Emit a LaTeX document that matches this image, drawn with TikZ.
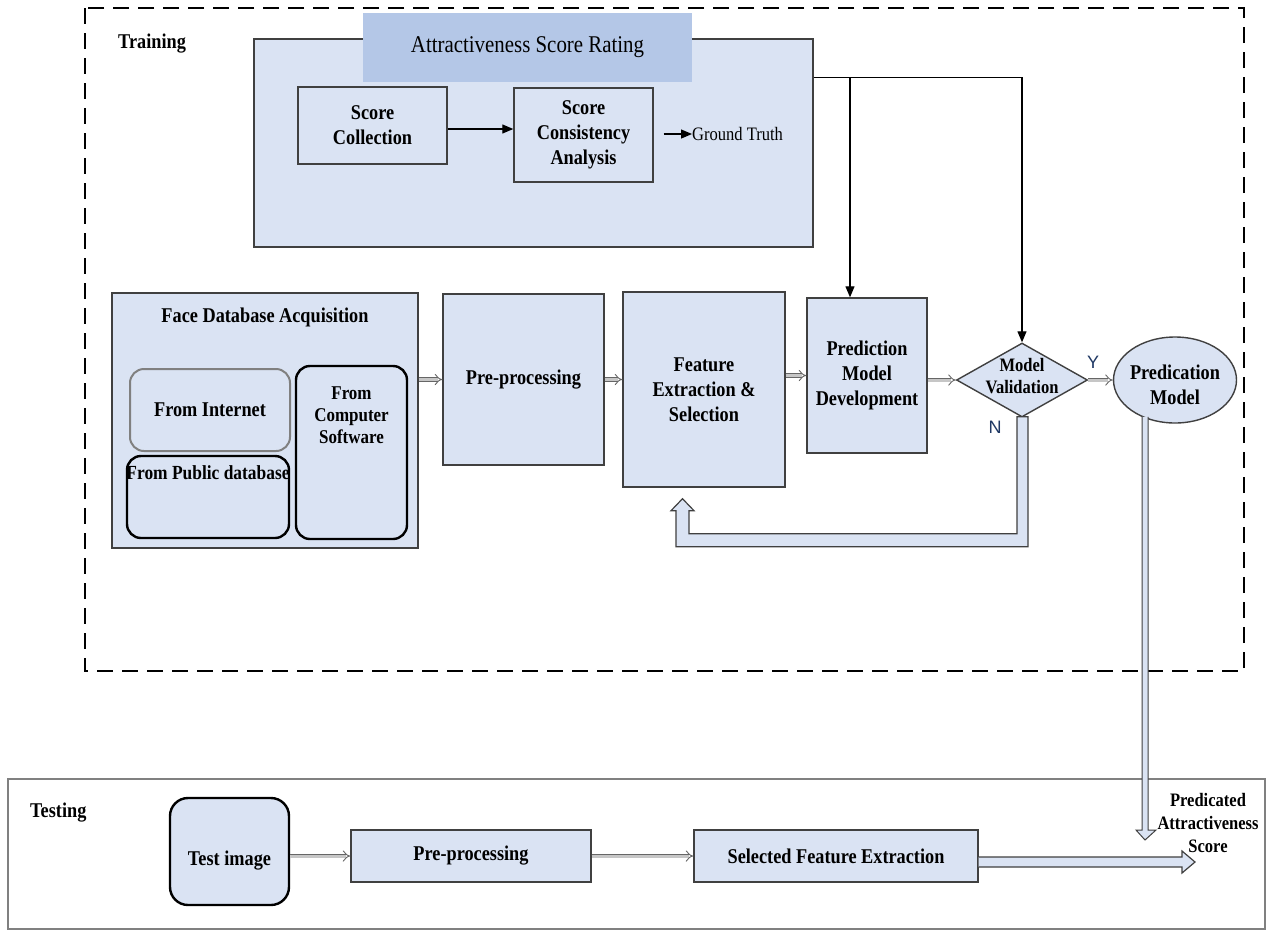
\documentclass[tikz,border=0pt]{standalone}
\usepackage{fontspec}
\setmainfont{Liberation Serif}[FakeStretch=0.87]
\newfontfamily\ynfont{Liberation Sans}
\usetikzlibrary{arrows.meta,shapes.geometric,calc}
\definecolor{boxfill}{RGB}{218,227,243}
\definecolor{bannerfill}{RGB}{180,199,231}
\definecolor{edge}{RGB}{64,64,64}
\definecolor{ynblue}{RGB}{31,56,100}
\begin{document}
\begin{tikzpicture}[x=1pt,y=-1pt,
  box/.style={draw=edge, line width=1.4pt, fill=boxfill, inner sep=0pt},
  btxt/.style={font=\fontsize{21}{25}\selectfont\bfseries, align=center, inner sep=0pt},
  rbox/.style={draw=black, line width=2.4pt, fill=boxfill, rounded corners=14pt, inner sep=0pt},
  plainarrow/.style={line width=1.2pt, -{Triangle[length=11pt,width=9pt]}},
  harrow/.style={draw=edge!80, line width=0.9pt, double=gray!45, double distance=3pt, -{Implies}},
  pipefill/.style={draw=edge, line width=1.2pt, fill=boxfill, line join=miter},
  ynlab/.style={font=\ynfont\fontsize{18}{20}\selectfont, text=ynblue, inner sep=0pt}]
\useasboundingbox (0,0) rectangle (1266,930);
\fill[white] (0,0) rectangle (1266,930);

% training frame
\draw[dash pattern=on 16pt off 9pt, line width=2.5pt] (85,8) rectangle (1244,671);
\node[btxt, anchor=west] (train) at (118,44) {Training};

% attractiveness score rating
\node[box, minimum width=559pt, minimum height=208pt] (asr) at (533.5,143) {};
\node[fill=bannerfill, minimum width=329pt, minimum height=69pt, inner sep=0pt, font=\fontsize{24}{28}\selectfont] (banner) at (527.5,47.5) {Attractiveness Score Rating};
\node[box, btxt, minimum width=149pt, minimum height=77pt] (scol) at (372.5,125.5) {Score\\Collection};
\node[box, btxt, minimum width=139pt, minimum height=94pt] (scon) at (583.5,135) {Score\\Consistency\\Analysis};
\node[anchor=west, font=\fontsize{19}{23}\selectfont, inner sep=0pt] (gt) at (692,134) {Ground Truth};

% face database
\node[box, minimum width=306pt, minimum height=255pt] (face) at (265,420.5) {};
\node[btxt] (facet) at (265,317) {Face Database Acquisition};
\node[draw=gray, line width=2pt, fill=boxfill, rounded corners=14pt, minimum width=160pt, minimum height=82pt, btxt] (inet) at (210,410) {From Internet};
\node[rbox, minimum width=162pt, minimum height=82pt] (pub) at (208,497) {};
\node[btxt, font=\fontsize{20}{24}\selectfont\bfseries] (pubt) at (208,473) {From Public database};
\node[rbox, minimum width=111pt, minimum height=173pt] (soft) at (351.5,452.5) {};
\node[btxt, font=\fontsize{19.5}{22}\selectfont\bfseries] (softt) at (351.5,415) {From\\Computer\\Software};

% pipeline
\node[box, btxt, minimum width=161pt, minimum height=171pt] (pre) at (523.5,379.5) {Pre-processing};
\node[box, btxt, minimum width=162pt, minimum height=195pt] (feat) at (704,389.5) {Feature\\Extraction \&\\Selection};
\node[box, btxt, minimum width=120pt, minimum height=155pt] (pmd) at (867,375.5) {Prediction\\Model\\Development};
\node[diamond, draw=edge, line width=1.4pt, fill=boxfill, minimum width=131pt, minimum height=74pt, inner sep=0pt] (diam) at (1022,380) {};
\node[btxt, font=\fontsize{19}{22}\selectfont\bfseries] (diamt) at (1022,376) {Model\\Validation};
\node[ellipse, draw=edge, line width=1.4pt, fill=boxfill, minimum width=123pt, minimum height=86pt, inner sep=0pt] (ell) at (1175,380) {};
\node[btxt] (ellt) at (1175,385) {Predication\\Model};
\node[ynlab] (ylab) at (1093,362) {Y};
\node[ynlab] (nlab) at (995,427) {N};

% testing
\node[draw=gray, line width=1.5pt, minimum width=1257pt, minimum height=150pt, inner sep=0pt] (testbox) at (636.5,854) {};
\node[btxt, anchor=west] (testl) at (30,813) {Testing};
\node[rbox, minimum width=119pt, minimum height=107pt, rounded corners=18pt] (timg) at (229.5,851.5) {};
\node[btxt] (timgt) at (229.5,861) {Test image};
\node[box, btxt, minimum width=240pt, minimum height=52pt] (tpre) at (471,856) {Pre-processing};
\node[box, btxt, minimum width=284pt, minimum height=52pt] (tsel) at (836,856) {Selected Feature Extraction};
\node[btxt, font=\fontsize{19}{23}\selectfont\bfseries] (pas) at (1208,823) {Predicated\\Attractiveness\\Score};
\coordinate (pend) at (1145,840);
\coordinate (oend) at (1195,862);

% plain arrows
\draw[plainarrow] ([yshift=-3.5pt]scol.east) -- ([yshift=-3.5pt]scol.east -| scon.west);
\coordinate (gts) at ([xshift=10pt]scon.east);
\draw[plainarrow] (gts |- gt.west) -- (gt.west);
\coordinate (jn) at ([yshift=-39pt]asr.north east);
\draw[plainarrow] (jn) -| (diam.north);
\coordinate (pmdin) at ([xshift=-17pt]pmd.north);
\draw[plainarrow] (pmdin |- jn) -- (pmdin);

% hollow arrows
\draw[harrow] (pre.west -| face.east) -- (pre.west);
\draw[harrow] (pre.east) -- (pre.east -| feat.west);
\draw[harrow] (pmd.west -| feat.east) -- (pmd.west);
\draw[harrow] (pmd.east |- diam.west) -- (diam.west);
\draw[harrow] (diam.east) -- (ell.west);
\draw[harrow] (timg.east |- tpre.west) -- (tpre.west);
\draw[harrow] (tpre.east) -- (tsel.west);

% pipes: N feedback loop
\draw[pipefill] ($(diam.south)+(-5,-1)$) -- ($(diam.south)+(-5,116)$)
  -- ($(feat.south)+(-15,46)$) -- ($(feat.south)+(-15,23)$)
  -- ($(feat.south)+(-10,23)$) -- ($(feat.south)+(-21.5,11)$)
  -- ($(feat.south)+(-33,23)$) -- ($(feat.south)+(-28,23)$)
  -- ($(feat.south)+(-28,59)$) -- ($(diam.south)+(6,129)$)
  -- ($(diam.south)+(6,-1)$) -- cycle;
% predication model to testing
\coordinate (ellb) at (ell.231 -| pend);
\draw[pipefill, line width=1pt] ($(ellb)+(-3,-1)$) -- ($(pend)+(-3,-10)$) -- ($(pend)+(-9,-10)$)
  -- (pend) -- ($(pend)+(11,-10)$) -- ($(pend)+(3,-10)$) -- ($(ellb)+(3,-1)$);
% selected features to score
\coordinate (tse) at (oend -| tsel.east);
\draw[pipefill] ($(tse)+(0,-5)$) -- ($(oend)+(-13,-5)$) -- ($(oend)+(-13,-11)$)
  -- (oend) -- ($(oend)+(-13,11)$) -- ($(oend)+(-13,5)$) -- ($(tse)+(0,5)$);
\end{tikzpicture}
\end{document}
